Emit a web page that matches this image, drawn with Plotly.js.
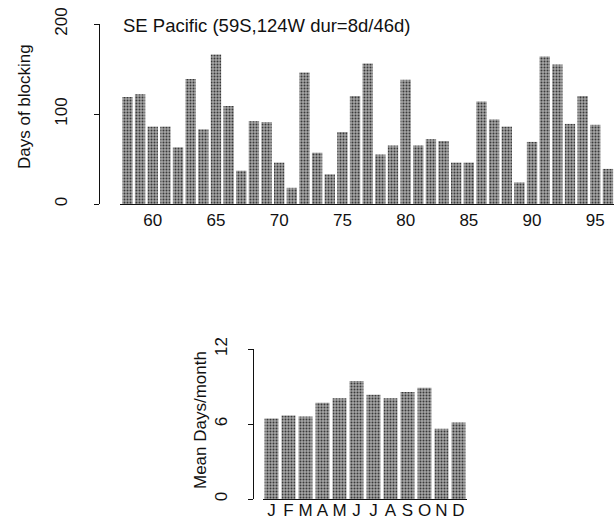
<!DOCTYPE html>
<html>
<head>
<meta charset="utf-8">
<script src="https://cdn.plot.ly/plotly-3.0.1.min.js"></script>
<style>html,body{margin:0;padding:0;background:#fff;}#chart{width:614px;height:521px;}</style>
</head>
<body>
<div id="chart"></div>
<script>
const years = [58,59,60,61,62,63,64,65,66,67,68,69,70,71,72,73,74,75,76,77,78,79,80,81,82,83,84,85,86,87,88,89,90,91,92,93,94,95,96];
const daysBlocking = [119,122,86,86,63,139,83,166,109,37,92,91,46,18,146,57,33,80,120,156,55,65,138,65,72,70,46,46,114,94,86,24,69,164,155,89,120,88,39];
const months = ["J","F","M","A","M ","J ","J  ","A ","S","O","N","D"];
const monthLabels = ["J","F","M","A","M","J","J","A","S","O","N","D"];
const meanDays = [6.45,6.68,6.6,7.7,8.05,9.45,8.35,8.05,8.55,8.9,5.62,6.12];
const yearTicks = [60,65,70,75,80,85,90,95];

const W = 614, H = 521;
const px = v => v / W, py = v => 1 - v / H;
const font = "Liberation Sans, Arial, sans-serif";

const barMarker = {
  color: '#8c8c8c',
  line: {width: 0},
  pattern: {shape: '.', fgcolor: '#3a3a3a', bgcolor: '#a6a6a6', size: 3, solidity: 0.35}
};

const traces = [
  {type: 'bar', x: years, y: daysBlocking, xaxis: 'x', yaxis: 'y', marker: barMarker, width: 0.82, hoverinfo: 'x+y'},
  {type: 'bar', x: months, y: meanDays, xaxis: 'x2', yaxis: 'y2', marker: barMarker, width: 0.82, hoverinfo: 'y'}
];

const layout = {
  width: W, height: H,
  margin: {l: 0, r: 0, t: 0, b: 0},
  paper_bgcolor: '#fff', plot_bgcolor: 'rgba(0,0,0,0)',
  showlegend: false,
  font: {family: font, size: 16, color: '#111'},
  xaxis: {
    domain: [px(120), px(614)], range: [57.41, 96.48], anchor: 'y',
    showline: true, linecolor: '#111', linewidth: 1.2, ticks: '', showgrid: false, zeroline: false,
    tickmode: 'array', tickvals: yearTicks, ticktext: yearTicks.map(String),
    tickfont: {family: font, size: 17, color: '#111'}
  },
  yaxis: {
    domain: [py(204), py(24)], range: [0, 200], anchor: 'free', position: px(99),
    showline: true, linecolor: '#111', linewidth: 1, ticks: 'outside', ticklen: 5, tickcolor: '#111',
    showgrid: false, zeroline: false, tickvals: [0, 100, 200], tickangle: -90,
    ticklabelstandoff: 20,
    tickfont: {family: font, size: 17, color: '#111'}
  },
  xaxis2: {
    domain: [px(263), px(467)], anchor: 'y2',
    showline: true, linecolor: '#111', linewidth: 1.2, ticks: '', showgrid: false, zeroline: false,
    tickmode: 'array', tickvals: months, ticktext: monthLabels,
    ticklabelstandoff: -5,
    tickfont: {family: font, size: 17, color: '#111'}
  },
  yaxis2: {
    domain: [py(499), py(349)], range: [0, 12], anchor: 'free', position: px(253),
    showline: true, linecolor: '#111', linewidth: 1, ticks: 'outside', ticklen: 5, tickcolor: '#111',
    showgrid: false, zeroline: false, tickvals: [0, 6, 12], tickangle: -90,
    ticklabelstandoff: 14,
    tickfont: {family: font, size: 17, color: '#111'}
  },
  annotations: [
    {text: 'SE Pacific (59S,124W dur=8d/46d)', xref: 'paper', yref: 'paper', x: px(121), y: py(25),
     xanchor: 'left', yanchor: 'middle', showarrow: false, font: {family: font, size: 18.5, color: '#111'}},
    {text: 'Days of blocking', xref: 'paper', yref: 'paper', x: px(24), y: py(107), textangle: -90,
     xanchor: 'center', yanchor: 'middle', showarrow: false, font: {family: font, size: 17, color: '#111'}},
    {text: 'Mean Days/month', xref: 'paper', yref: 'paper', x: px(200), y: py(420), textangle: -90,
     xanchor: 'center', yanchor: 'middle', showarrow: false, font: {family: font, size: 17, color: '#111'}}
  ]
};

Plotly.newPlot('chart', traces, layout, {displayModeBar: false, staticPlot: true});
</script>
</body>
</html>
